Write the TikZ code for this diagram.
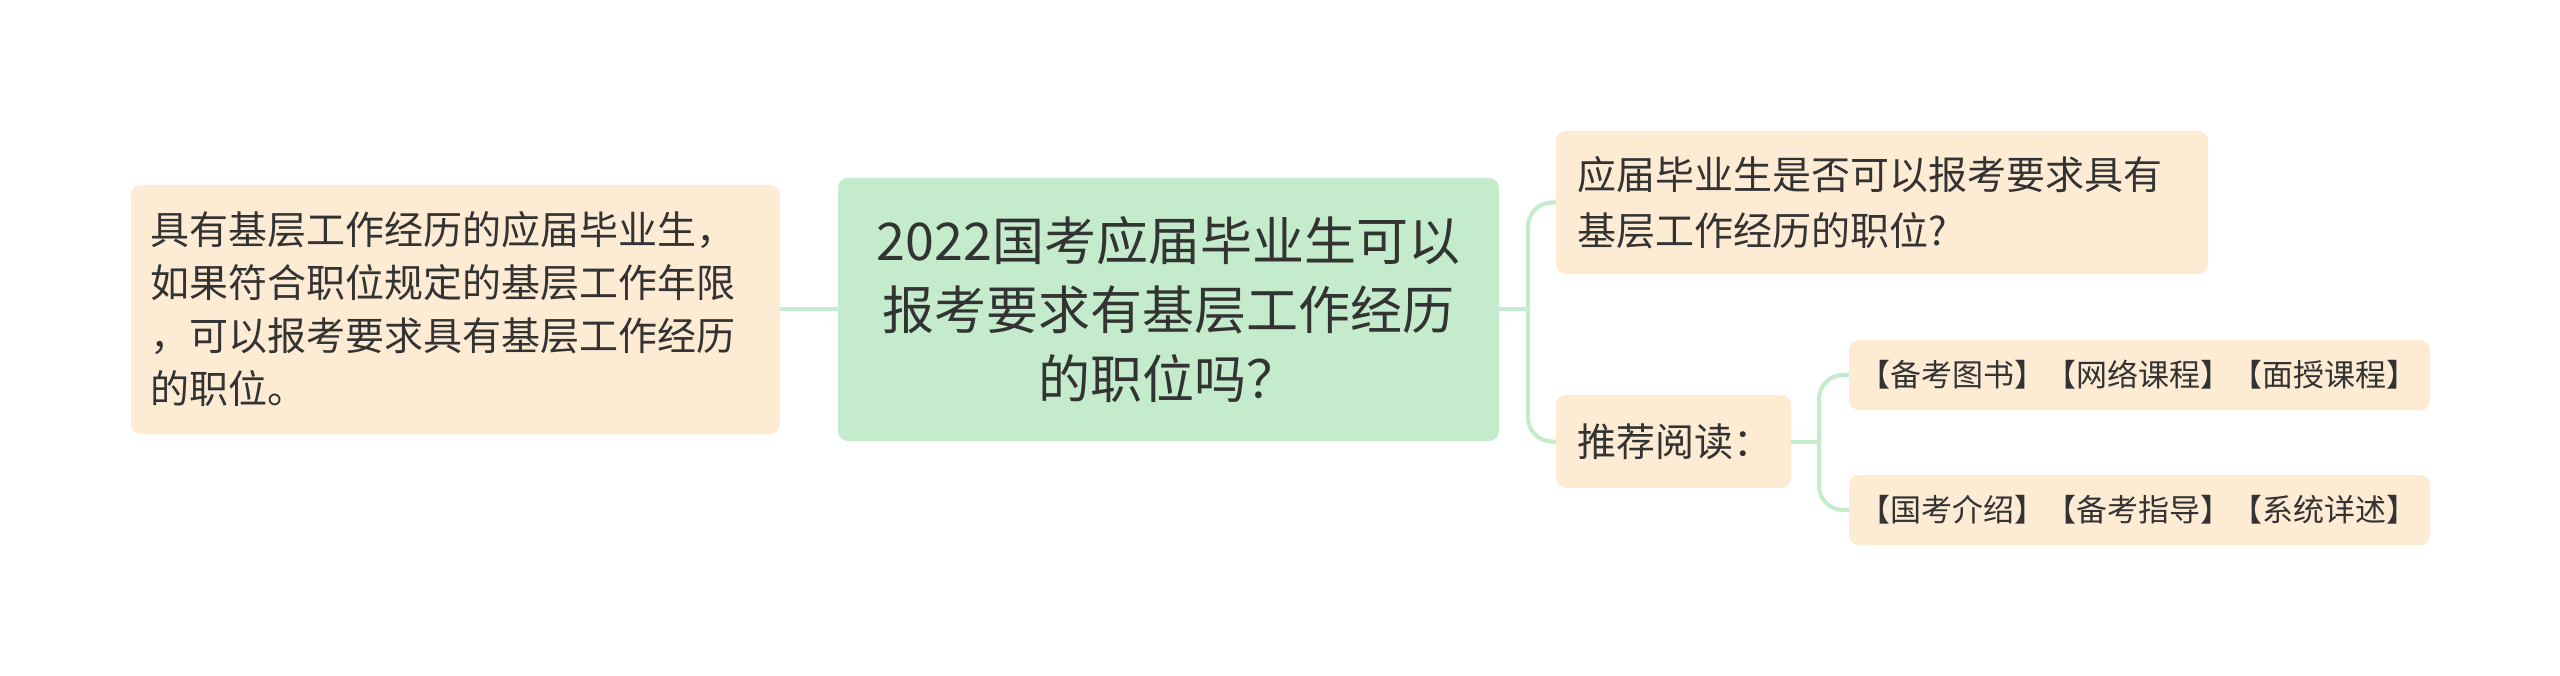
\documentclass[tikz,border=0pt]{standalone}
\usepackage{fontspec}
\setmainfont{Noto Sans CJK SC}
\definecolor{peach}{HTML}{FEEBD4}
\definecolor{mint}{HTML}{C4EBCB}
\definecolor{ink}{HTML}{333333}
\begin{document}
\begin{tikzpicture}[x=1pt,y=-1pt,
  box/.style={rounded corners=10pt, inner sep=0pt, text=ink, anchor=center},
  leaf/.style={box, fill=peach, align=left},
  root/.style={box, fill=mint, align=center},
  link/.style={draw=mint, line width=4pt, rounded corners=24pt}]
\useasboundingbox (0,0) rectangle (2560,676);
\fill[white] (0,0) rectangle (2560,676);

\node[root, minimum width=661pt, minimum height=263pt, text width=640pt,
  font=\fontsize{52}{69}\selectfont] (c) at (1168.5,309.5)
  {2022国考应届毕业生可以\\报考要求有基层工作经历\\的职位吗？};

\node[leaf, minimum width=649pt, minimum height=249pt, text width=611pt,
  font=\fontsize{39}{53}\selectfont] (l) at (455.5,309.5)
  {具有基层工作经历的应届毕业生，\\如果符合职位规定的基层工作年限\\，可以报考要求具有基层工作经历\\的职位。};

\node[leaf, minimum width=652pt, minimum height=143pt, text width=610pt,
  font=\fontsize{39}{56}\selectfont] (tr) at (1882,202.5)
  {应届毕业生是否可以报考要求具有\\基层工作经历的职位?};

\node[leaf, minimum width=235pt, minimum height=93pt, text width=193pt,
  font=\fontsize{39}{53}\selectfont] (tj) at (1673.5,441.5)
  {推荐阅读：};

\node[leaf, minimum width=581pt, minimum height=70pt, text width=561pt,
  font=\fontsize{31}{40}\selectfont] (s1) at (2139.5,375)
  {【备考图书】【网络课程】【面授课程】};

\node[leaf, minimum width=581pt, minimum height=70pt, text width=561pt,
  font=\fontsize{31}{40}\selectfont] (s2) at (2139.5,510)
  {【国考介绍】【备考指导】【系统详述】};

\coordinate (j1) at (1528,309.5);
\coordinate (j2) at (1819,441.5);

\draw[link] (l.east) -- (c.west);
\draw[link] (c.east) -- (j1);
\draw[link] (j1) |- (tr.west);
\draw[link] (j1) |- (tj.west);
\draw[link] (tj.east) -- (j2);
\draw[link] (j2) |- (s1.west);
\draw[link] (j2) |- (s2.west);
\end{tikzpicture}
\end{document}
